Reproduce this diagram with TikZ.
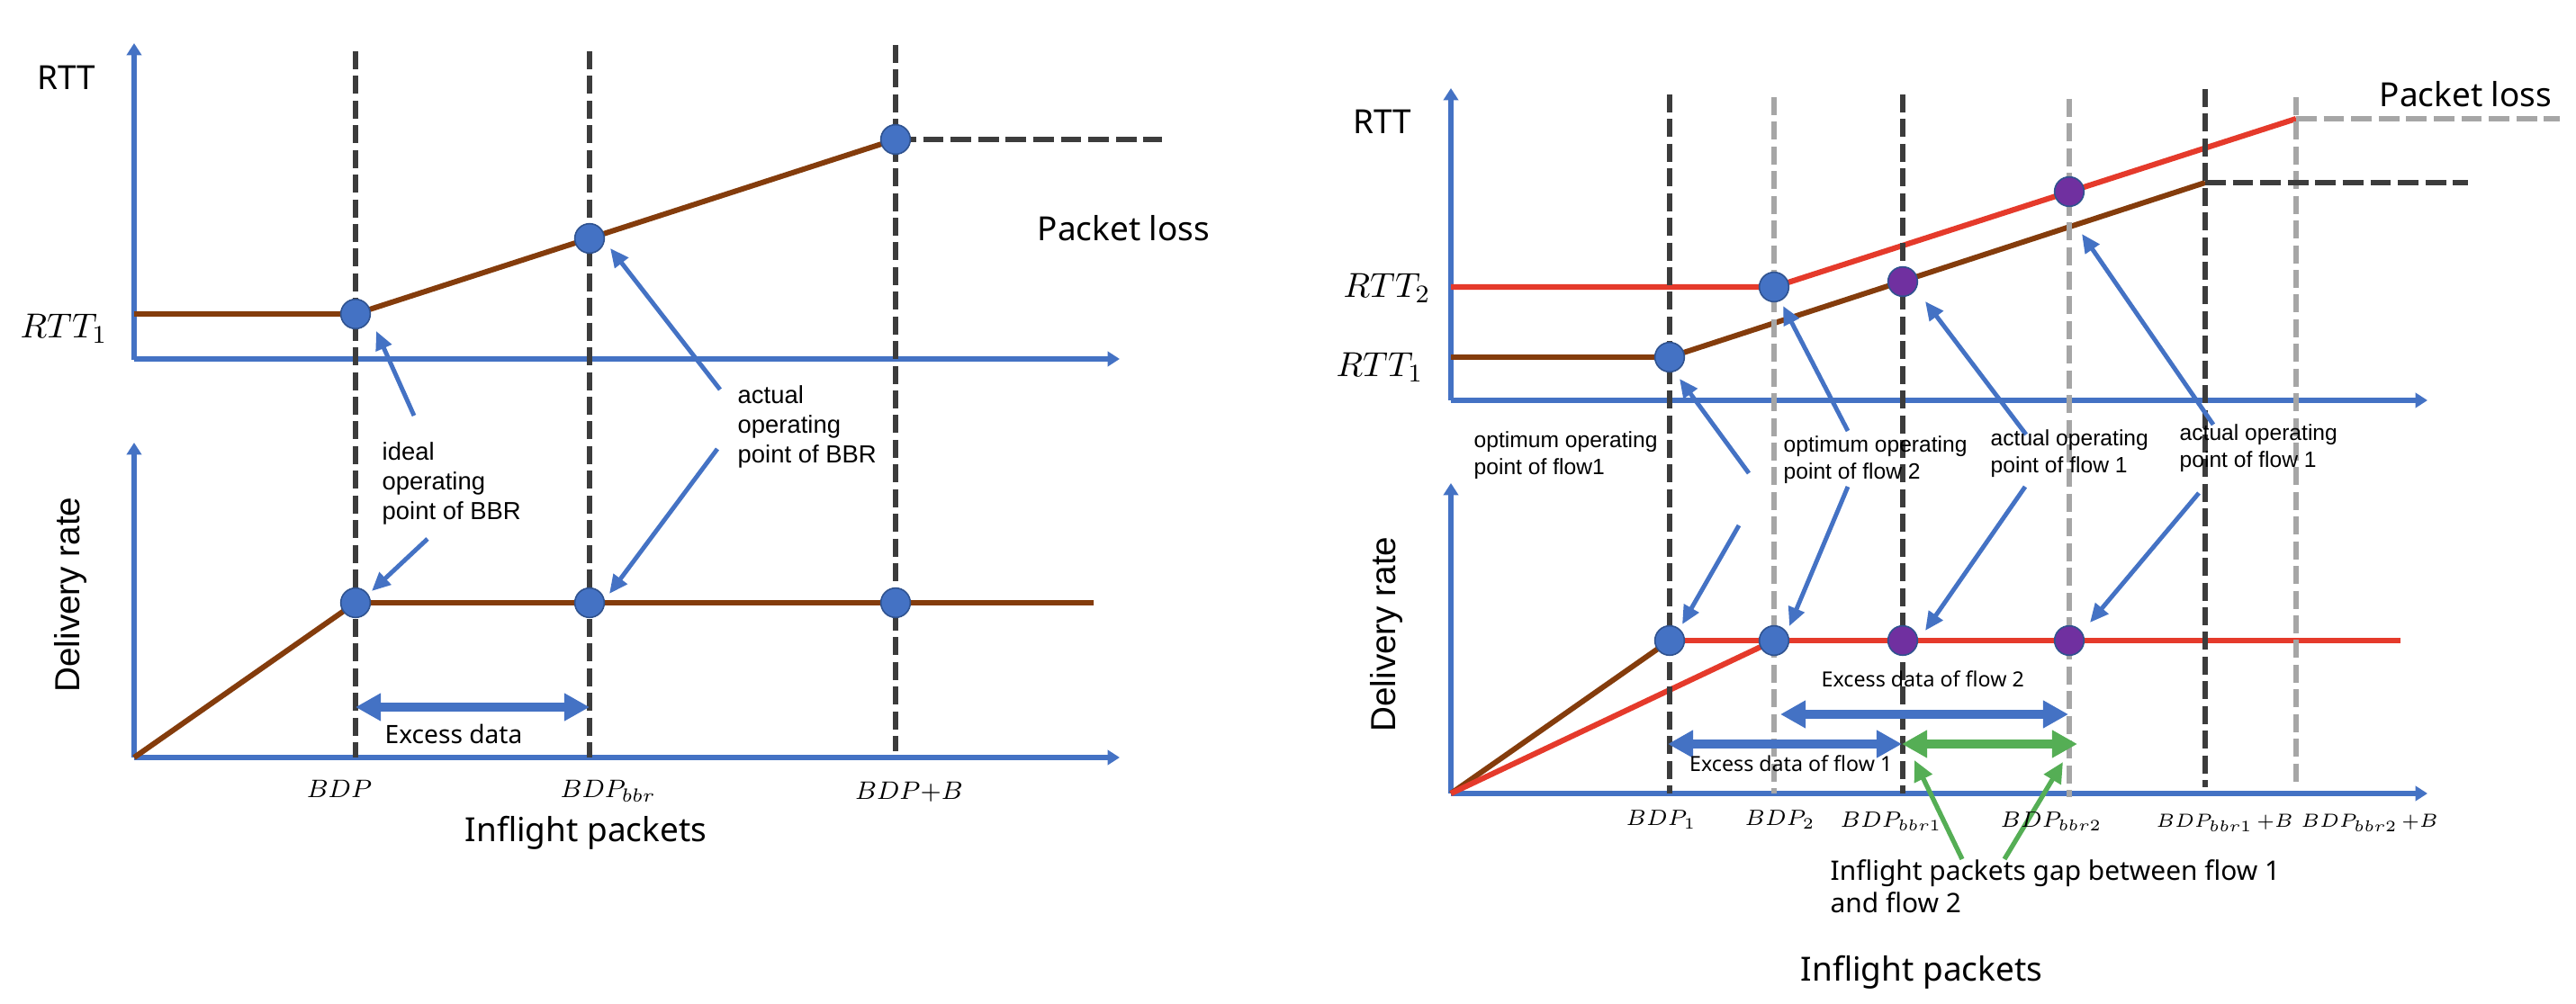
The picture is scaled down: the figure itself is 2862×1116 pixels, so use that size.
\documentclass[tikz,border=0pt]{standalone}
\usepackage{fontspec}
\setmainfont{Liberation Sans}
\newfontfamily\notosans{Noto Sans}
\usetikzlibrary{arrows.meta}
\definecolor{axblue}{HTML}{4472C4}
\definecolor{dotedge}{HTML}{2F528F}
\definecolor{brownc}{HTML}{843C0C}
\definecolor{redc}{HTML}{E53A2B}
\definecolor{purplec}{HTML}{7030A0}
\definecolor{darkg}{HTML}{3C3C3C}
\definecolor{lightg}{HTML}{A6A6A6}
\definecolor{greenc}{HTML}{55AE55}
\begin{document}
\begin{tikzpicture}[x=0.01cm,y=-0.01cm,
  axis/.style={axblue,line width=1.6pt,-{Triangle[length=3.8pt,width=4.6pt]}},
  vdark/.style={darkg,line width=1.8pt,dash pattern=on 5.7pt off 2.1pt},
  vlight/.style={lightg,line width=1.8pt,dash pattern=on 5.7pt off 2.1pt},
  hdark/.style={darkg,line width=1.8pt,dash pattern=on 6.5pt off 2.2pt},
  hlight/.style={lightg,line width=1.8pt,dash pattern=on 6.5pt off 2.2pt},
  bline/.style={brownc,line width=1.7pt},
  rline/.style={redc,line width=1.75pt},
  dotb/.style={circle,fill=axblue,draw=dotedge,line width=0.45pt,minimum size=9.3pt,inner sep=0pt},
  dotp/.style={dotb,fill=purplec},
  ptr/.style={axblue,line width=1.4pt,-{Triangle[length=5.9pt,width=5.2pt]}},
  gptr/.style={greenc,line width=1.5pt,-{Triangle[length=6.5pt,width=6pt]}},
  dbl/.style={line width=3pt,{Triangle[length=8pt,width=8.3pt]}-{Triangle[length=8pt,width=8.3pt]}},
  lbl/.style={inner sep=0pt,align=left,font=\fontsize{7.8}{9.4}\selectfont},
  lbls/.style={inner sep=0pt,align=left,font=\fontsize{7}{8.8}\selectfont},
  big/.style={inner sep=0pt,font=\notosans\fontsize{10.5}{12}\selectfont},
  mid/.style={inner sep=0pt,font=\notosans\fontsize{8}{10}\selectfont},
  sml/.style={inner sep=0pt,font=\notosans\fontsize{6.6}{8}\selectfont},
  gaplbl/.style={inner sep=0pt,align=left,font=\notosans\fontsize{8.5}{10.5}\selectfont},
  ylbl/.style={inner sep=0pt,rotate=90,font=\fontsize{11}{13}\selectfont},
  mathl/.style={inner sep=0pt,font=\fontsize{8.4}{10}\selectfont},
  maths/.style={inner sep=0pt,font=\fontsize{6.7}{8}\selectfont},
  mathxs/.style={inner sep=0pt,font=\fontsize{5.7}{7}\selectfont},
  rtt/.style={inner sep=0pt,font=\fontsize{11}{13}\selectfont}]
\useasboundingbox (0,0) rectangle (2862,1116);

% ================= LEFT =================
\coordinate (L0) at (149,400);
\coordinate (Ltop) at (149,48);
\coordinate (L0b) at (149,399);
\coordinate (Lx) at (1244,399);
\coordinate (Lb0) at (149,842);
\coordinate (Lbtop) at (149,492);
\coordinate (Lbx) at (1244,842);
\draw[axis] (L0) -- (Ltop);
\draw[axis] (L0b) -- (Lx);
\draw[axis] (Lb0) -- (Lbtop);
\draw[axis] (Lb0) -- (Lbx);

\coordinate (Lr0) at (149,349);
\coordinate (Lu1c) at (395,349);
\coordinate (Lu2c) at (655,265);
\coordinate (Lu3c) at (995,155);
\coordinate (Lhd) at (1291,155);
\draw[bline] (Lr0) -- (Lu1c) -- (Lu3c);
\coordinate (Ll1c) at (395,670);
\coordinate (Llend) at (1215,670);
\draw[bline] (Lb0) -- (Ll1c) -- (Llend);

\coordinate (Ld1t) at (395,57);  \coordinate (Ld1b) at (395,842);
\coordinate (Ld2t) at (655,57);  \coordinate (Ld2b) at (655,842);
\coordinate (Ld3t) at (995,50);  \coordinate (Ld3b) at (995,835);
\draw[vdark] (Ld1t) -- (Ld1b);
\draw[vdark] (Ld2t) -- (Ld2b);
\draw[vdark] (Ld3t) -- (Ld3b);
\draw[hdark] (Lu3c) -- (Lhd);

\coordinate (Lex1) at (395,786);
\coordinate (Lex2) at (655,786);
\draw[dbl,axblue] (Lex1) -- (Lex2);

\node[dotb] (Lu1) at (Lu1c) {};
\node[dotb] (Lu2) at (Lu2c) {};
\node[dotb] (Lu3) at (Lu3c) {};
\node[dotb] (Ll1) at (Ll1c) {};
\node[dotb] (Ll2) at (655,670) {};
\node[dotb] (Ll3) at (995,670) {};

\coordinate (p1s) at (460,462); \coordinate (p1t) at (418,368);
\coordinate (p2s) at (800,433); \coordinate (p2t) at (678,276);
\coordinate (p3s) at (475,599); \coordinate (p3t) at (413,657);
\coordinate (p4s) at (797,499); \coordinate (p4t) at (677,660);
\draw[ptr] (p1s) -- (p1t);
\draw[ptr] (p2s) -- (p2t);
\draw[ptr] (p3s) -- (p3t);
\draw[ptr] (p4s) -- (p4t);

\node[big] (Lrtt) at (74,86) {RTT};
\node[rtt] (Lrtt1) at (71,365) {$RTT_1$};
\node[big,anchor=base west] (Lloss) at (1152,268) {Packet loss};
\node[lbl,anchor=base west] (Lideal) at (424,578) {ideal\\operating\\point of BBR};
\node[lbl,anchor=base west] (Lactual) at (819,515) {actual\\operating\\point of BBR};
\node[ylbl] (Ldel) at (78,661) {Delivery rate};
\node[mid,anchor=base west] (Lexc) at (427,827) {Excess data};
\node[mathl,anchor=base] (Lbdp) at (377,887) {$BDP$};
\node[mathl,anchor=base west] (Lbdpb) at (622,887) {$BDP_{bbr}$};
\node[mathl,anchor=base] (LbdpB) at (1010,889) {$BDP{+}B$};
\node[big,anchor=base] (Linfl) at (651,936) {Inflight packets};

% ================= RIGHT =================
\coordinate (R0) at (1612,445);
\coordinate (Rtop) at (1612,98);
\coordinate (Rx) at (2697,445);
\coordinate (Rb0) at (1612,882);
\coordinate (Rbtop) at (1612,537);
\coordinate (Rbx) at (2697,882);
\draw[axis] (R0) -- (Rtop);
\draw[axis] (R0) -- (Rx);
\draw[axis] (Rb0) -- (Rbtop);
\draw[axis] (Rb0) -- (Rbx);

\coordinate (Rr0) at (1612,319);
\coordinate (Ru2c) at (1971,319);
\coordinate (Rrend) at (2551,132);
\coordinate (Rrhd) at (2844,132);
\coordinate (Rb1) at (1612,397);
\coordinate (Ru1c) at (1855,397);
\coordinate (Rbend) at (2450,203);
\coordinate (Rbhd) at (2742,203);
\draw[bline] (Rb1) -- (Ru1c) -- (Rbend);
\draw[rline] (Rr0) -- (Ru2c) -- (Rrend);

\coordinate (Rl1c) at (1855,712);
\coordinate (Rl2c) at (1971,712);
\coordinate (Rlend) at (2667,712);
\draw[bline] (Rb0) -- (Rl1c);
\draw[rline] (Rb0) -- (Rl2c);
\draw[rline] (Rl1c) -- (Rlend);

\coordinate (Rd1t) at (1855,105); \coordinate (Rd1b) at (1855,882);
\coordinate (Rd2t) at (1971,108); \coordinate (Rd2b) at (1971,882);
\coordinate (Rd3t) at (2114,105); \coordinate (Rd3b) at (2114,882);
\coordinate (Rd4t) at (2299,110); \coordinate (Rd4b) at (2299,886);
\coordinate (Rd5t) at (2450,99);  \coordinate (Rd5b) at (2450,875);
\coordinate (Rd6t) at (2551,108); \coordinate (Rd6b) at (2551,875);
\draw[vdark] (Rd1t) -- (Rd1b);
\draw[vlight] (Rd2t) -- (Rd2b);
\draw[vdark] (Rd3t) -- (Rd3b);
\draw[vlight] (Rd4t) -- (Rd4b);
\draw[vdark] (Rd5t) -- (Rd5b);
\draw[vlight] (Rd6t) -- (Rd6b);
\draw[hlight] (Rrend) -- (Rrhd);
\draw[hdark] (Rbend) -- (Rbhd);

\coordinate (Rex2a) at (1978,794); \coordinate (Rex2b) at (2298,794);
\coordinate (Rex1a) at (1853,827); \coordinate (Rex1b) at (2113,827);
\coordinate (Rgpa) at (2113,827);  \coordinate (Rgpb) at (2308,827);
\draw[dbl,axblue] (Rex2a) -- (Rex2b);
\draw[dbl,axblue] (Rex1a) -- (Rex1b);
\draw[dbl,greenc] (Rgpa) -- (Rgpb);

\node[dotb] (Ru1) at (Ru1c) {};
\node[dotb] (Ru2) at (Ru2c) {};
\node[dotp] (Ru3) at (2114,313) {};
\node[dotp] (Ru4) at (2299,213) {};
\node[dotb] (Rl1) at (Rl1c) {};
\node[dotb] (Rl2) at (Rl2c) {};
\node[dotp] (Rl3) at (2114,712) {};
\node[dotp] (Rl4) at (2299,712) {};

\coordinate (qAs) at (1943,526); \coordinate (qAt) at (1866,421);
\coordinate (qBs) at (2053,479); \coordinate (qBt) at (1981,340);
\coordinate (qCs) at (2251,483); \coordinate (qCt) at (2139,335);
\coordinate (qDs) at (2459,472); \coordinate (qDt) at (2313,260);
\coordinate (qEs) at (1932,584); \coordinate (qEt) at (1869,694);
\coordinate (qFs) at (2053,541); \coordinate (qFt) at (1988,696);
\coordinate (qGs) at (2250,541); \coordinate (qGt) at (2139,701);
\coordinate (qHs) at (2443,548); \coordinate (qHt) at (2322,692);
\draw[ptr] (qAs) -- (qAt);
\draw[ptr] (qBs) -- (qBt);
\draw[ptr] (qCs) -- (qCt);
\draw[ptr] (qDs) -- (qDt);
\draw[ptr] (qEs) -- (qEt);
\draw[ptr] (qFs) -- (qFt);
\draw[ptr] (qGs) -- (qGt);
\draw[ptr] (qHs) -- (qHt);

\coordinate (gAs) at (2180,955); \coordinate (gAt) at (2127,845);
\coordinate (gBs) at (2227,955); \coordinate (gBt) at (2292,847);
\draw[gptr] (gAs) -- (gAt);
\draw[gptr] (gBs) -- (gBt);

\node[big] (Rrtt) at (1536,135) {RTT};
\node[rtt] (Rrtt2) at (1541,320) {$RTT_2$};
\node[rtt] (Rrtt1) at (1533,408) {$RTT_1$};
\node[big,anchor=base west] (Rloss) at (2643,119) {Packet loss};
\node[lbls,anchor=base west] (Ropt1) at (1637,528) {optimum operating\\point of flow1};
\node[lbls,anchor=base west] (Ropt2) at (1981,533) {optimum operating\\point of flow 2};
\node[lbls,anchor=base west] (Ract1) at (2211,526) {actual operating\\point of flow 1};
\node[lbls,anchor=base west] (Ract2) at (2421,520) {actual operating\\point of flow 1};
\node[ylbl] (Rdel) at (1540,705) {Delivery rate};
\node[sml,anchor=base west] (Rexc2) at (2023,764) {Excess data of flow 2};
\node[sml,anchor=base east] (Rexc1) at (2103,858) {Excess data of flow 1};
\node[gaplbl,anchor=base west] (Rgap) at (2033,1015) {Inflight packets gap between flow 1\\and flow 2};
\node[maths,anchor=base west] (Rbdp1) at (1806,918) {$BDP_1$};
\node[maths,anchor=base west] (Rbdp2) at (1938,918) {$BDP_2$};
\node[maths,anchor=base west] (Rbdpb1) at (2044,920) {$BDP_{bbr1}$};
\node[maths,anchor=base west] (Rbdpb2) at (2222,920) {$BDP_{bbr2}$};
\node[mathxs,anchor=base west] (RbdpB1) at (2395,920) {$BDP_{bbr1}\,{+}B$};
\node[mathxs,anchor=base west] (RbdpB2) at (2556,920) {$BDP_{bbr2}\,{+}B$};
\node[big,anchor=base] (Rinfl) at (2135,1091) {Inflight packets};
\end{tikzpicture}
\end{document}
